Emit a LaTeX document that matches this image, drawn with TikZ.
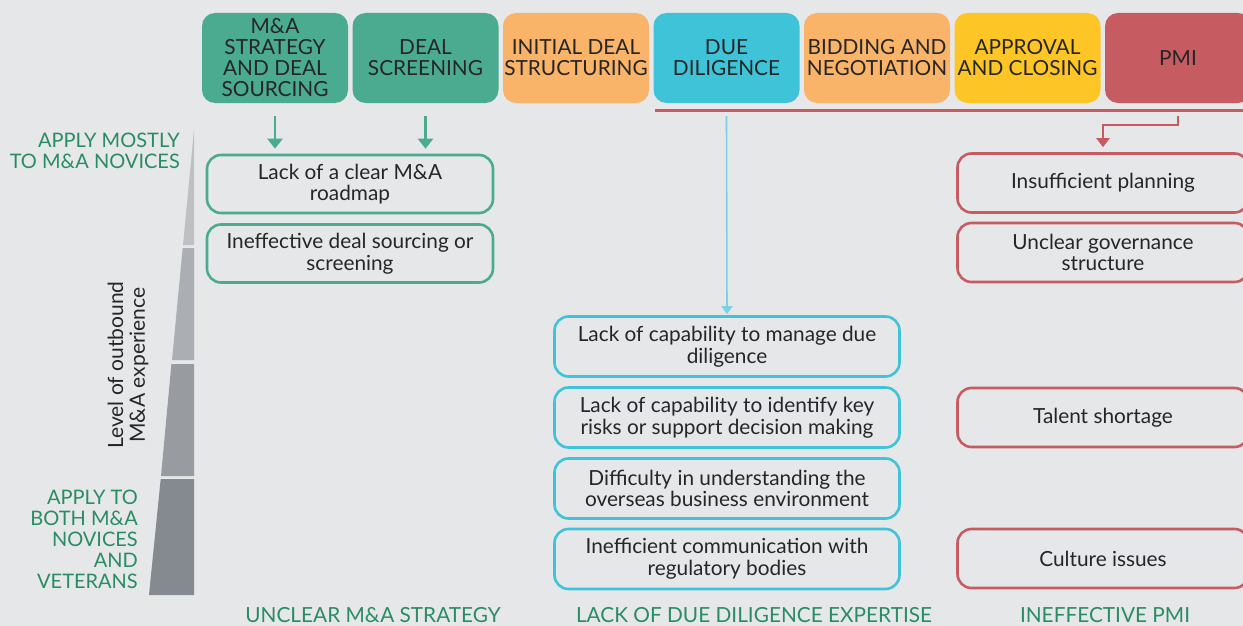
\documentclass[tikz,border=0pt]{standalone}
\usepackage{fontspec}
\setmainfont{Lato}
\usetikzlibrary{arrows.meta}
\definecolor{bg}{HTML}{E6E7E9}
\definecolor{txt}{HTML}{262626}
\definecolor{gteal}{HTML}{4AAB91}
\definecolor{gorange}{HTML}{F9B469}
\definecolor{gblue}{HTML}{3EC3D8}
\definecolor{lblue}{HTML}{7FD0E4}
\definecolor{gyellow}{HTML}{FEC526}
\definecolor{gred}{HTML}{C65C62}
\definecolor{gtext}{HTML}{2A8C64}
\definecolor{w1}{HTML}{BEC0C4}
\definecolor{w2}{HTML}{ABAFB3}
\definecolor{w3}{HTML}{989CA1}
\definecolor{w4}{HTML}{858A90}
\begin{document}
\begin{tikzpicture}[x=1pt,y=-1pt,
  hdr/.style={rounded corners=13pt, minimum width=146pt, minimum height=90pt, inner sep=0pt, align=center, font=\fontsize{20.8}{21}\selectfont, text=txt},
  issue/.style={draw, line width=2.6pt, rounded corners=14pt, align=center, inner sep=0pt, font=\fontsize{20.8}{21.7}\selectfont, text=txt},
  gbox/.style={issue, draw=gteal, minimum width=286pt, minimum height=58pt},
  dbox/.style={issue, draw=gblue, minimum width=345pt, minimum height=60pt},
  rbox/.style={issue, draw=gred, minimum width=291pt, minimum height=59pt},
  glabel/.style={text=gtext, font=\fontsize{20}{21}\selectfont, inner sep=0pt},
  blabel/.style={text=gtext, font=\fontsize{20.8}{21}\selectfont, inner sep=0pt},
  garrow/.style={draw=gteal, line width=2.5pt, -{Triangle[length=10pt,width=15pt]}},
  barrow/.style={draw=lblue, line width=1.6pt, -{Triangle[length=8pt,width=11pt]}},
  rarrow/.style={draw=gred, line width=2.2pt, -{Triangle[length=9pt,width=13pt]}}
]
\fill[bg] (0,0) rectangle (1243,626);
\clip (0,0) rectangle (1243,626);
\useasboundingbox (0,0) rectangle (1243,626);

% headers
\node[hdr, fill=gteal] (h1) at (275,58) {M\&A\\STRATEGY\\AND DEAL\\SOURCING};
\node[hdr, fill=gteal] (h2) at (425.5,58) {DEAL\\SCREENING};
\node[hdr, fill=gorange] (h3) at (576,58) {INITIAL DEAL\\STRUCTURING};
\node[hdr, fill=gblue] (h4) at (726.5,58) {DUE\\DILIGENCE};
\node[hdr, fill=gorange] (h5) at (877,58) {BIDDING AND\\NEGOTIATION};
\node[hdr, fill=gyellow] (h6) at (1027.5,58) {APPROVAL\\AND CLOSING};
\node[hdr, fill=gred] (h7) at (1178,58) {PMI};

% red bar
\draw[gred, line width=3pt] (655,110) -- (1243,110);

% wedge
\fill[w1] (194,130) -- (194,245) -- (183,245) -- cycle;
\fill[w2] (194,248) -- (194,360) -- (172,360) -- (182.7,248) -- cycle;
\fill[w3] (194,364) -- (194,476) -- (161,476) -- (171.4,364) -- cycle;
\fill[w4] (194,479) -- (194,595) -- (149,595) -- (160.7,479) -- cycle;

% left labels
\node[glabel, align=right, anchor=north east] (lt) at (180,133) {APPLY MOSTLY\\TO M\&A NOVICES};
\node[glabel, align=right, anchor=north east] (lb) at (138,490) {APPLY TO\\BOTH M\&A\\NOVICES\\AND\\VETERANS};
\node[rotate=90, align=center, text=txt, font=\fontsize{21}{21.7}\selectfont, inner sep=0pt] (lvl) at (128,365) {Level of outbound\\M\&A experience};

% issue boxes
\node[gbox] (g1) at (350,184) {Lack of a clear M\&A\\roadmap};
\node[gbox] (g2) at (350,253.5) {Ineffective deal sourcing or\\screening};
\node[dbox] (d1) at (727,346.5) {Lack of capability to manage due\\diligence};
\node[dbox] (d2) at (727,417.5) {Lack of capability to identify key\\risks or support decision making};
\node[dbox] (d3) at (727,488.5) {Difficulty in understanding the\\overseas business environment};
\node[dbox] (d4) at (727,559) {Inefficient communication with\\regulatory bodies};
\node[rbox] (r1) at (1103,183) {Insufficient planning};
\node[rbox] (r2) at (1103,252.5) {Unclear governance\\structure};
\node[rbox] (r3) at (1103,417.5) {Talent shortage};
\node[rbox] (r4) at (1103,558.5) {Culture issues};

% connectors
\draw[garrow] ([yshift=-13pt]h1.south) -- ([yshift=5pt]g1.north -| h1.south);
\draw[garrow] ([yshift=-13pt]h2.south) -- ([yshift=5pt]g1.north -| h2.south);
\draw[barrow] ([yshift=-13pt]h4.south) -- ([yshift=1pt]d1.north);
\draw[rarrow] ([yshift=-13pt]h7.south) -- ++(0,9) -| ([yshift=5pt]r1.north);

% bottom labels
\node[blabel, anchor=base] (bl1) at (373,622) {UNCLEAR M\&A STRATEGY};
\node[blabel, anchor=base] (bl2) at (754,622) {LACK OF DUE DILIGENCE EXPERTISE};
\node[blabel, anchor=base] (bl3) at (1105,622) {INEFFECTIVE PMI};
\end{tikzpicture}
\end{document}
